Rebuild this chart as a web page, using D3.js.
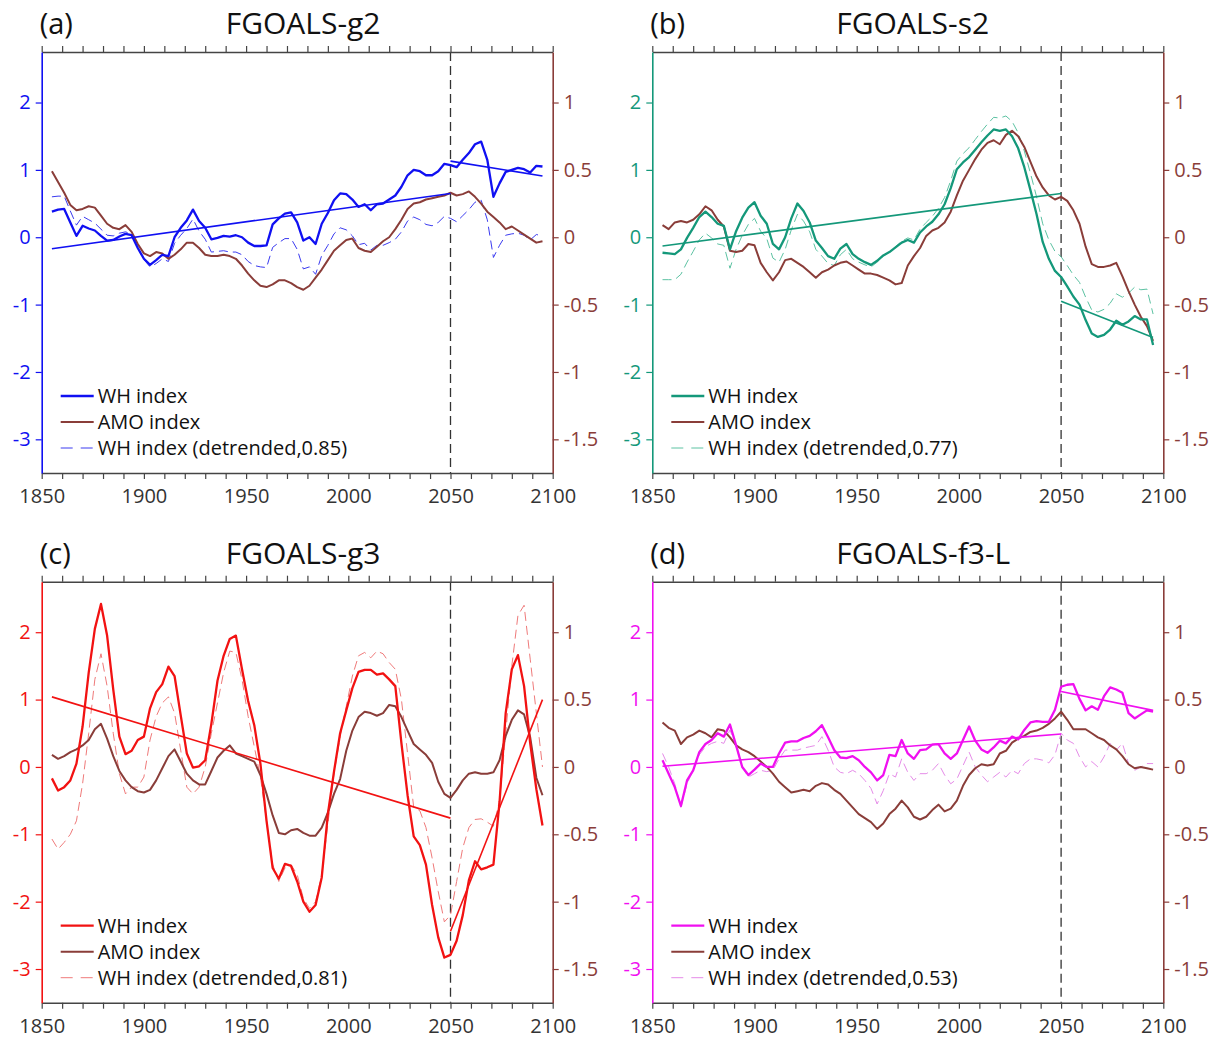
<!DOCTYPE html>
<html>
<head>
<meta charset="utf-8">
<script src="https://cdn.jsdelivr.net/npm/d3@7"></script>
<style>
  body { margin: 0; background: #fff; }
  text { font-family: "Open Sans", sans-serif; }
</style>
</head>
<body>
<svg id="chart" width="1215" height="1039"></svg>
<script>
// ---------------- data ----------------
const years = [
  1855,1858,1861,1864,1867,1870,1873,1876,1879,1882,
  1885,1888,1891,1894,1897,1900,1903,1906,1909,1912,
  1915,1918,1921,1924,1927,1930,1933,1936,1939,1942,
  1945,1948,1951,1954,1957,1960,1963,1966,1969,1972,
  1975,1978,1981,1984,1987,1990,1993,1996,1999,2002,
  2005,2008,2011,2014,2017,2020,2023,2026,2029,2032,
  2035,2038,2041,2044,2047,2050,2053,2056,2059,2062,
  2065,2068,2071,2074,2077,2080,2083,2086,2089,2092,
  2095
];

// (a) FGOALS-g2
const whA = [
  0.38,0.41,0.42,0.22,0.02,0.17,0.13,0.10,0.02,-0.05,
  -0.04,0.01,0.05,0.03,-0.16,-0.32,-0.41,-0.34,-0.26,-0.28,
  0.00,0.14,0.25,0.41,0.24,0.14,-0.03,-0.01,0.02,0.01,
  0.03,0.00,-0.08,-0.13,-0.13,-0.12,0.19,0.28,0.35,0.37,
  0.22,-0.05,0.00,-0.10,0.20,0.36,0.55,0.65,0.64,0.56,
  0.45,0.49,0.40,0.49,0.50,0.56,0.62,0.75,0.92,1.00,
  0.98,0.92,0.92,0.98,1.09,1.07,1.04,1.15,1.25,1.38,
  1.42,1.15,0.60,0.80,0.97,1.00,1.03,1.01,0.96,1.06,
  1.05
];
const amoA = [
  0.49,0.41,0.33,0.24,0.20,0.21,0.23,0.22,0.16,0.10,
  0.07,0.06,0.09,0.04,-0.05,-0.12,-0.14,-0.11,-0.12,-0.16,
  -0.13,-0.09,-0.04,-0.04,-0.08,-0.13,-0.14,-0.14,-0.13,-0.14,
  -0.16,-0.21,-0.27,-0.32,-0.36,-0.37,-0.35,-0.32,-0.32,-0.34,
  -0.37,-0.39,-0.36,-0.30,-0.24,-0.17,-0.10,-0.06,-0.02,-0.01,
  -0.08,-0.10,-0.11,-0.07,-0.03,0.00,0.06,0.13,0.21,0.25,
  0.26,0.28,0.29,0.30,0.31,0.33,0.31,0.32,0.34,0.30,
  0.25,0.19,0.15,0.11,0.06,0.08,0.05,0.02,-0.01,-0.04,
  -0.03
];
const dtA = [
  0.60,0.61,0.61,0.39,0.18,0.31,0.26,0.21,0.12,0.03,
  0.02,0.06,0.08,0.05,-0.16,-0.33,-0.44,-0.39,-0.32,-0.36,
  -0.09,0.03,0.13,0.27,0.09,-0.03,-0.22,-0.21,-0.20,-0.22,
  -0.22,-0.26,-0.36,-0.42,-0.44,-0.45,-0.15,-0.08,-0.02,-0.02,
  -0.18,-0.47,-0.44,-0.55,-0.27,-0.12,0.05,0.14,0.11,0.02,
  -0.11,-0.09,-0.19,-0.12,-0.12,-0.08,-0.03,0.08,0.24,0.30,
  0.26,0.19,0.17,0.22,0.31,0.28,0.23,0.32,0.41,0.52,
  0.55,0.26,-0.30,-0.12,0.03,0.05,0.06,0.03,-0.04,0.04,
  0.02
];

// (b) FGOALS-s2
const whB = [
  -0.23,-0.24,-0.25,-0.18,-0.01,0.14,0.30,0.38,0.30,0.20,
  0.17,-0.18,0.09,0.29,0.44,0.52,0.32,0.20,-0.10,-0.18,
  0.00,0.28,0.50,0.39,0.22,-0.05,-0.16,-0.28,-0.32,-0.17,
  -0.10,-0.25,-0.32,-0.37,-0.41,-0.35,-0.27,-0.22,-0.15,-0.08,
  -0.04,-0.08,0.07,0.16,0.23,0.34,0.49,0.73,1.01,1.11,
  1.19,1.30,1.41,1.51,1.60,1.58,1.60,1.50,1.32,1.04,
  0.70,0.34,-0.07,-0.32,-0.50,-0.59,-0.73,-0.88,-1.00,-1.23,
  -1.43,-1.48,-1.45,-1.37,-1.24,-1.30,-1.25,-1.17,-1.22,-1.22,
  -1.60
];
const amoB = [
  0.09,0.06,0.11,0.12,0.11,0.13,0.17,0.23,0.20,0.13,
  0.08,-0.10,-0.11,-0.10,-0.05,-0.06,-0.19,-0.26,-0.32,-0.26,
  -0.17,-0.16,-0.19,-0.22,-0.26,-0.30,-0.26,-0.24,-0.21,-0.19,
  -0.18,-0.21,-0.24,-0.27,-0.27,-0.28,-0.30,-0.32,-0.35,-0.34,
  -0.21,-0.14,-0.08,0.01,0.05,0.07,0.11,0.19,0.31,0.42,
  0.50,0.58,0.65,0.70,0.72,0.69,0.76,0.79,0.75,0.67,
  0.56,0.45,0.37,0.31,0.28,0.30,0.27,0.20,0.10,-0.07,
  -0.20,-0.22,-0.22,-0.21,-0.19,-0.29,-0.40,-0.50,-0.59,-0.66,
  -0.77
];
const dtB = [
  -0.63,-0.63,-0.63,-0.55,-0.37,-0.21,-0.04,0.06,-0.01,-0.10,
  -0.12,-0.46,-0.18,0.03,0.19,0.28,0.09,-0.02,-0.31,-0.37,
  -0.18,0.11,0.34,0.24,0.08,-0.18,-0.28,-0.39,-0.42,-0.26,
  -0.18,-0.32,-0.37,-0.41,-0.44,-0.37,-0.28,-0.22,-0.14,-0.06,
  -0.01,-0.04,0.12,0.22,0.31,0.43,0.59,0.84,1.13,1.24,
  1.33,1.45,1.57,1.68,1.78,1.77,1.80,1.72,1.55,1.28,
  0.95,0.60,0.20,-0.04,-0.21,-0.29,-0.42,-0.56,-0.67,-0.89,
  -1.08,-1.11,-1.07,-0.98,-0.84,-0.89,-0.83,-0.74,-0.78,-0.77,
  -1.14
];

// (c) FGOALS-g3
const whC = [
  -0.17,-0.35,-0.30,-0.20,0.05,0.60,1.40,2.05,2.42,1.95,
  1.15,0.45,0.19,0.24,0.40,0.45,0.87,1.11,1.23,1.49,
  1.35,0.77,0.20,-0.01,0.01,0.10,0.64,1.28,1.65,1.90,
  1.95,1.45,0.98,0.62,0.05,-0.80,-1.50,-1.66,-1.44,-1.47,
  -1.70,-2.00,-2.15,-2.05,-1.64,-0.70,-0.07,0.50,0.84,1.17,
  1.41,1.44,1.44,1.37,1.39,1.30,1.20,0.35,-0.42,-1.03,
  -1.16,-1.45,-2.05,-2.53,-2.83,-2.79,-2.58,-2.20,-1.68,-1.40,
  -1.52,-1.49,-1.45,-0.52,0.80,1.45,1.66,1.20,0.35,-0.33,
  -0.87
];
const amoC = [
  0.09,0.06,0.08,0.11,0.13,0.16,0.20,0.28,0.32,0.21,
  0.08,-0.03,-0.10,-0.15,-0.18,-0.19,-0.17,-0.10,-0.01,0.08,
  0.13,0.04,-0.05,-0.10,-0.13,-0.13,-0.03,0.07,0.12,0.16,
  0.10,0.08,0.06,0.04,-0.06,-0.20,-0.36,-0.49,-0.50,-0.47,
  -0.46,-0.49,-0.51,-0.51,-0.45,-0.34,-0.20,-0.09,0.12,0.27,
  0.37,0.41,0.40,0.38,0.40,0.46,0.45,0.37,0.27,0.17,
  0.13,0.09,0.03,-0.11,-0.20,-0.23,-0.17,-0.10,-0.05,-0.04,
  -0.05,-0.05,-0.04,0.05,0.23,0.35,0.42,0.39,0.22,-0.08,
  -0.21
];
const dtC = [
  -1.07,-1.22,-1.12,-1.00,-0.80,-0.25,0.50,1.30,1.68,1.20,
  0.50,-0.10,-0.40,-0.30,-0.30,-0.15,0.40,0.75,0.95,1.04,
  0.80,0.25,-0.30,-0.40,-0.30,0.00,0.50,0.95,1.40,1.72,
  1.70,1.30,0.75,0.30,-0.15,-0.80,-1.45,-1.70,-1.50,-1.45,
  -1.60,-1.95,-2.10,-2.00,-1.60,-0.85,-0.10,0.45,0.90,1.35,
  1.65,1.70,1.62,1.72,1.68,1.55,1.45,1.00,0.20,-0.60,
  -0.65,-0.90,-1.35,-1.85,-2.30,-2.20,-1.70,-1.20,-0.90,-0.78,
  -0.77,-0.82,-0.88,-0.50,0.50,1.50,2.25,2.40,1.60,0.80,
  0.00
];

// (d) FGOALS-f3-L
const whD = [
  0.10,-0.10,-0.30,-0.58,-0.20,-0.05,0.22,0.34,0.40,0.50,
  0.45,0.63,0.32,0.00,-0.12,-0.04,0.05,0.00,0.00,0.20,
  0.36,0.38,0.38,0.43,0.46,0.53,0.62,0.44,0.25,0.14,
  0.13,0.16,0.10,0.00,-0.08,-0.20,-0.12,0.18,0.16,0.40,
  0.20,0.12,0.25,0.26,0.33,0.34,0.20,0.12,0.20,0.40,
  0.60,0.39,0.26,0.21,0.29,0.39,0.35,0.45,0.41,0.55,
  0.66,0.68,0.67,0.67,0.85,1.19,1.22,1.23,1.01,0.84,
  0.90,0.85,1.05,1.18,1.15,1.10,0.80,0.72,0.78,0.84,
  0.82
];
const amoD = [
  0.33,0.29,0.27,0.17,0.22,0.24,0.27,0.25,0.22,0.28,
  0.27,0.22,0.16,0.13,0.11,0.08,0.04,0.00,-0.05,-0.11,
  -0.15,-0.19,-0.18,-0.17,-0.18,-0.14,-0.12,-0.13,-0.17,-0.20,
  -0.25,-0.30,-0.35,-0.38,-0.41,-0.46,-0.42,-0.35,-0.31,-0.25,
  -0.30,-0.37,-0.39,-0.37,-0.32,-0.28,-0.33,-0.31,-0.25,-0.14,
  -0.06,-0.01,0.02,0.01,0.02,0.10,0.12,0.18,0.21,0.23,
  0.26,0.27,0.29,0.32,0.36,0.41,0.35,0.28,0.28,0.28,
  0.25,0.22,0.20,0.16,0.13,0.08,0.02,-0.01,0.00,-0.01,
  -0.02
];
const dtD = [
  0.20,0.00,-0.25,-0.60,-0.25,-0.05,0.18,0.30,0.35,0.38,
  0.35,0.55,0.30,0.00,-0.15,-0.10,-0.05,-0.07,-0.05,0.12,
  0.25,0.25,0.25,0.28,0.30,0.32,0.45,0.25,0.00,-0.08,
  -0.10,-0.05,-0.10,-0.20,-0.32,-0.55,-0.35,-0.10,-0.15,0.12,
  -0.08,-0.20,-0.10,-0.10,-0.05,0.05,-0.12,-0.25,-0.18,0.02,
  0.22,0.00,-0.12,-0.22,-0.15,-0.08,-0.15,-0.05,-0.10,0.05,
  0.12,0.12,0.10,0.06,0.18,0.50,0.40,0.35,0.15,0.00,
  0.08,0.00,0.15,0.35,0.25,0.35,0.05,-0.05,0.00,0.05,
  0.05
];

// linear trends: 1855-2050 and 2050-2095 (start/end values)
const trendYears1 = [1855, 2050];
const trendYears2 = [2050, 2095];
const trendA1 = [-0.17, 0.65], trendA2 = [1.13, 0.91];
const trendB1 = [-0.13, 0.65], trendB2 = [-0.95, -1.49];
const trendC1 = [1.04, -0.76], trendC2 = [-2.44, 1.00];
const trendD1 = [0.01, 0.49],  trendD2 = [1.12, 0.84];

// ticks
const xTicks = [1850,1860,1870,1880,1890,1900,1910,1920,1930,1940,1950,1960,1970,1980,1990,2000,2010,2020,2030,2040,2050,2060,2070,2080,2090,2100];
const xLabels = [1850, 1900, 1950, 2000, 2050, 2100];
const leftTicks = [-3, -2, -1, 0, 1, 2];
const rightTicks = [-1.5, -1, -0.5, 0, 0.5, 1];
const legendNames = ["WH index", "AMO index", "WH index (detrended,"];
const corrs = [0.85, 0.77, 0.81, 0.53];

// ---------------- layout ----------------
const W = 511, H = 421;
const brown = "#8a3d39";

const panels = [
  { tag: "(a)", title: "FGOALS-g2", wh: whA, amo: amoA, dt: dtA, t1: trendA1, t2: trendA2, r: corrs[0],
    color: "#1010f2", dtColor: "#3a3af0", left: 41.7, top: 52 },
  { tag: "(b)", title: "FGOALS-s2", wh: whB, amo: amoB, dt: dtB, t1: trendB1, t2: trendB2, r: corrs[1],
    color: "#14987a", dtColor: "#5cc2a2", left: 652.3, top: 52 },
  { tag: "(c)", title: "FGOALS-g3", wh: whC, amo: amoC, dt: dtC, t1: trendC1, t2: trendC2, r: corrs[2],
    color: "#f21212", dtColor: "#ef7a7a", left: 41.7, top: 581.7 },
  { tag: "(d)", title: "FGOALS-f3-L", wh: whD, amo: amoD, dt: dtD, t1: trendD1, t2: trendD2, r: corrs[3],
    color: "#f010f0", dtColor: "#e58be8", left: 652.3, top: 581.7 }
];

const svg = d3.select("#chart");

panels.forEach(p => {
  const x = d3.scaleLinear().domain([1850, 2100]).range([p.left, p.left + W]);
  const yL = d3.scaleLinear().domain([-3.5, 2.75]).range([p.top + H, p.top]);
  const yR = d3.scaleLinear().domain([-1.75, 1.375]).range([p.top + H, p.top]);
  const g = svg.append("g");

  // split line at 2050
  g.append("line")
    .attr("x1", x(2050)).attr("x2", x(2050))
    .attr("y1", p.top).attr("y2", p.top + H)
    .attr("stroke", "#333").attr("stroke-width", 1.3)
    .attr("stroke-dasharray", "9,5");

  const lineL = d3.line().x((d, i) => x(years[i])).y(d => yL(d));
  const lineR = d3.line().x((d, i) => x(years[i])).y(d => yR(d));

  // detrended WH (thin dashed)
  g.append("path").datum(p.dt)
    .attr("fill", "none").attr("stroke", p.dtColor).attr("stroke-width", 1)
    .attr("stroke-dasharray", "9,5").attr("d", lineL);

  // AMO (right axis)
  g.append("path").datum(p.amo)
    .attr("fill", "none").attr("stroke", brown).attr("stroke-width", 2)
    .attr("stroke-linejoin", "round").attr("d", lineR);

  // WH index
  g.append("path").datum(p.wh)
    .attr("fill", "none").attr("stroke", p.color).attr("stroke-width", 2.3)
    .attr("stroke-linejoin", "round").attr("d", lineL);

  // trend lines
  [[trendYears1, p.t1], [trendYears2, p.t2]].forEach(([ty, tv]) => {
    g.append("line")
      .attr("x1", x(ty[0])).attr("y1", yL(tv[0]))
      .attr("x2", x(ty[1])).attr("y2", yL(tv[1]))
      .attr("stroke", p.color).attr("stroke-width", 1.6);
  });

  // axes
  const styleAxis = (sel, col, txtCol) => {
    sel.attr("font-family", null).attr("font-size", 20);
    sel.select(".domain").attr("stroke", col).attr("stroke-width", 1.6);
    sel.selectAll(".tick line").attr("stroke", col).attr("stroke-width", 1.2);
    sel.selectAll(".tick text").attr("fill", txtCol);
  };

  g.append("g").attr("transform", `translate(0,${p.top + H})`)
    .call(d3.axisBottom(x).tickValues(xTicks).tickSize(6).tickSizeOuter(0).tickPadding(10)
      .tickFormat(d => xLabels.includes(d) ? d : ""))
    .call(s => styleAxis(s, "#444", "#333"));

  g.append("g").attr("transform", `translate(0,${p.top})`)
    .call(d3.axisTop(x).tickValues(xTicks).tickSize(6).tickSizeOuter(0).tickFormat(""))
    .call(s => styleAxis(s, "#444", "#333"));

  g.append("g").attr("transform", `translate(${p.left},0)`)
    .call(d3.axisLeft(yL).tickValues(leftTicks).tickSize(6).tickSizeOuter(0).tickPadding(5)
      .tickFormat(d => String(d)))
    .call(s => styleAxis(s, p.color, p.color));

  g.append("g").attr("transform", `translate(${p.left + W},0)`)
    .call(d3.axisRight(yR).tickValues(rightTicks).tickSize(6).tickSizeOuter(0).tickPadding(5)
      .tickFormat(d => String(d)))
    .call(s => styleAxis(s, brown, brown));

  // titles
  g.append("text").attr("x", p.left - 2).attr("y", p.top - 18)
    .attr("font-size", 29).attr("fill", "#111").text(p.tag);
  g.append("text").attr("x", p.left + 184).attr("y", p.top - 18)
    .attr("font-size", 30).attr("fill", "#111").text(p.title);

  // legend
  const legend = [
    { name: legendNames[0], stroke: p.color, w: 2.3, dash: null },
    { name: legendNames[1], stroke: brown, w: 2, dash: null },
    { name: legendNames[2] + p.r + ")", stroke: p.dtColor, w: 1, dash: "12,8" }
  ];
  legend.forEach((d, i) => {
    const ly = p.top + 344 + i * 26;
    g.append("line")
      .attr("x1", p.left + 19).attr("x2", p.left + 52)
      .attr("y1", ly).attr("y2", ly)
      .attr("stroke", d.stroke).attr("stroke-width", d.w)
      .attr("stroke-dasharray", d.dash);
    g.append("text").attr("x", p.left + 56).attr("y", ly).attr("dy", "0.35em")
      .attr("font-size", 20).attr("fill", "#111").text(d.name);
  });
});
</script>
</body>
</html>
